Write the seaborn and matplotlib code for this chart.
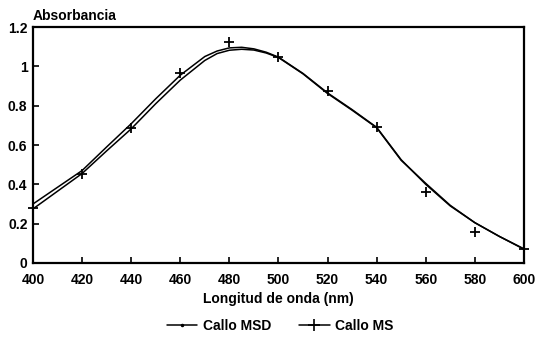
import matplotlib
matplotlib.use("Agg")
import matplotlib.pyplot as plt
import seaborn as sns
import pandas as pd
from matplotlib.lines import Line2D

# Curve samples (nm)
wavelength = [400, 410, 420, 430, 440, 450, 460, 470, 475, 480, 485, 490, 495, 500, 510,
              520, 530, 540, 550, 560, 570, 580, 590, 600]
curve_ms = [0.30, 0.385, 0.47, 0.59, 0.708, 0.835, 0.955, 1.05, 1.078, 1.094, 1.097, 1.089,
            1.072, 1.047, 0.964, 0.865, 0.78, 0.69, 0.525, 0.40, 0.29, 0.205, 0.135, 0.072]
curve_msd = [0.275, 0.365, 0.455, 0.57, 0.682, 0.81, 0.93, 1.03, 1.065, 1.082, 1.087, 1.083,
             1.068, 1.045, 0.962, 0.862, 0.777, 0.688, 0.522, 0.405, 0.293, 0.205, 0.135, 0.07]

# Measured points (Callo MS markers)
ms_points_nm = [400, 420, 440, 460, 480, 500, 520, 540, 560, 580, 600]
ms_points_val = [0.28, 0.45, 0.687, 0.964, 1.123, 1.05, 0.873, 0.694, 0.363, 0.16, 0.072]

x_ticks = [400, 420, 440, 460, 480, 500, 520, 540, 560, 580, 600]
y_ticks = [0, 0.2, 0.4, 0.6, 0.8, 1.0, 1.2]
y_tick_labels = ["0", "0.2", "0.4", "0.6", "0.8", "1", "1.2"]

sns.set_theme(style="white")
plt.rcParams["font.family"] = ["Liberation Sans", "DejaVu Sans"]
plt.rcParams["font.weight"] = "bold"
for k in ["text.color", "axes.labelcolor", "xtick.color", "ytick.color"]:
    plt.rcParams[k] = "black"

df_curves = pd.DataFrame({
    "nm": wavelength * 2,
    "abs": curve_ms + curve_msd,
    "serie": ["Callo MS"] * len(wavelength) + ["Callo MSD"] * len(wavelength),
})
df_pts = pd.DataFrame({"nm": ms_points_nm, "abs": ms_points_val})

fig = plt.figure(figsize=(5.39, 3.38), dpi=100)
ax = fig.add_axes([0.0612, 0.222, 0.9108, 0.698])

sns.lineplot(data=df_curves, x="nm", y="abs", hue="serie",
             palette={"Callo MS": "black", "Callo MSD": "black"},
             linewidth=1.1, legend=False, ax=ax, sort=False)
sns.scatterplot(data=df_pts, x="nm", y="abs", marker="+", color="black",
                s=45, linewidth=1.3, ax=ax, zorder=5, clip_on=False)

ax.set_xlim(400, 600)
ax.set_ylim(0, 1.2)
ax.set_xticks(x_ticks)
ax.set_xticklabels([str(t) for t in x_ticks], fontsize=10, fontweight="bold")
ax.set_yticks(y_ticks)
ax.set_yticklabels(y_tick_labels, fontsize=10, fontweight="bold")
ax.tick_params(direction="in", length=4, width=1.2, color="black",
               bottom=True, left=True)
ax.tick_params(axis="x", pad=7)
ax.tick_params(axis="y", pad=4)
for s in ax.spines.values():
    s.set_color("black")
    s.set_linewidth(1.6)

ax.set_xlabel("Longitud de onda (nm)", fontsize=10, fontweight="bold", labelpad=4)
ax.set_ylabel("")
fig.text(0.06, 0.952, "Absorbancia", fontsize=10, fontweight="bold",
         ha="left", va="center")

handles = [
    Line2D([], [], color="black", lw=1.1, marker=".", markersize=3),
    Line2D([], [], color="black", lw=1.1, marker="+", markersize=9, mew=1.2),
]
fig.legend(handles, ["Callo MSD", "Callo MS"], loc="center",
           bbox_to_anchor=(0.52, 0.036), ncol=2, frameon=False,
           prop={"size": 10, "weight": "bold"}, handlelength=2.2,
           columnspacing=2.0, handletextpad=0.4)

fig.savefig("out.png", dpi=100, facecolor="white")
